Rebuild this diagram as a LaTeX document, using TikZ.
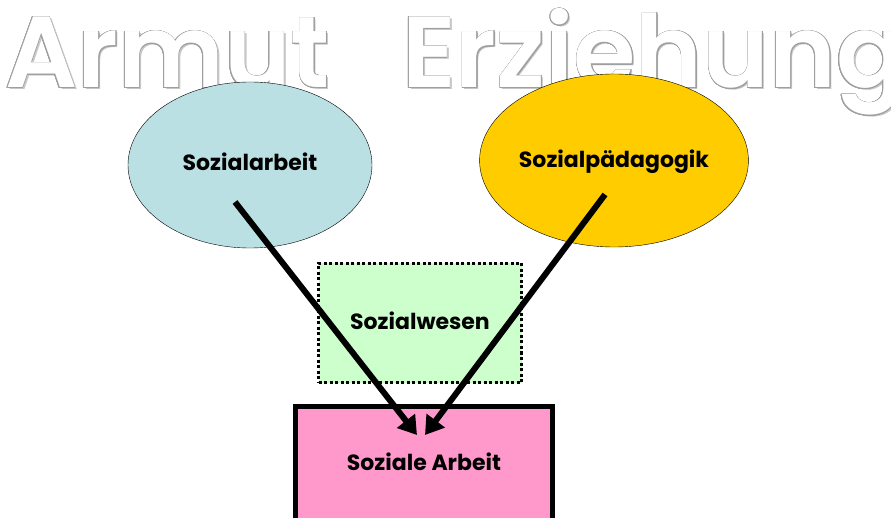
\documentclass[tikz,border=0pt]{standalone}
\usepackage{fontspec}
\setmainfont{Poppins}
\newfontfamily\titelfont{Poppins SemiBold}
\usepackage[copies]{contour}
\contourlength{0.6pt}
\contournumber{24}
\usetikzlibrary{arrows.meta,shapes.geometric,positioning}

\definecolor{hellblau}{HTML}{BBE0E3}
\definecolor{gelb}{HTML}{FFCC00}
\definecolor{hellgruen}{HTML}{CCFFCC}
\definecolor{rosa}{HTML}{FF99CC}

\begin{document}
\begin{tikzpicture}[
  x=1pt, y=1pt,
  every node/.style={align=center, text height=16pt, text depth=5pt,
                     font=\bfseries\fontsize{22}{24}\selectfont},
  oval/.style={draw, ellipse, thin, inner sep=0pt},
  kasten/.style={draw, rectangle, inner sep=0pt},
  titel/.style={anchor=base west, inner sep=0pt, text height=, text depth=,
                font=\titelfont\fontsize{101}{101}\selectfont},
  pfeil/.style={-{Triangle[length=18pt,width=22pt]}, line width=6pt}
]
\clip (0,0) rectangle (891,517);

% Titel
\node[titel, text=gray!45] (armut-schatten) at (7,427) {Armut};
\node[titel, text=white]   (armut) at (5,429) {\contour{gray!75}{Armut}};
\node[titel, text=gray!45] (erziehung-schatten) at (404,427) {Erziehung};
\node[titel, text=white]   (erziehung) at (402,429) {\contour{gray!75}{Erziehung}};

% Ovale
\node[oval, fill=hellblau, minimum width=244, minimum height=166] (sa) at (250,352) {Sozialarbeit};
\node[oval, fill=gelb, minimum width=242, minimum height=173, text height=20pt] (sp) at (614,356.5) {Sozialpädagogik};

% Kaesten
\node[kasten, fill=hellgruen, line width=3pt, dash pattern=on 3pt off 2.5pt,
      minimum width=203, minimum height=119, text height=19pt] (sw) at (420,194) {Sozialwesen};
\node[kasten, fill=rosa, line width=5pt, minimum width=257, minimum height=117] (sozarb) at (424,52) {Soziale Arbeit};

% Pfeile
\coordinate (sa-fuss) at ([shift={(-15,-37)}]sa.center);
\coordinate (sp-fuss) at ([shift={(-9,-34)}]sp.center);
\coordinate (ziel-l) at ([shift={(-7,30)}]sozarb.center);
\coordinate (ziel-r) at ([shift={(1,30)}]sozarb.center);

\draw[pfeil] (sa-fuss) -- (ziel-l);
\draw[pfeil] (sp-fuss) -- (ziel-r);

\end{tikzpicture}
\end{document}
